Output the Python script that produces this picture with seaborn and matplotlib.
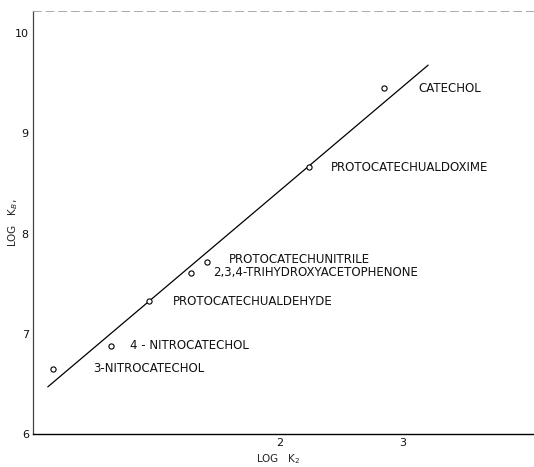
import numpy as np
import pandas as pd
import matplotlib
matplotlib.use("Agg")
import matplotlib.pyplot as plt
import seaborn as sns

# du lieu doc tu hinh
compounds = ["CATECHOL", "PROTOCATECHUALDOXIME", "PROTOCATECHUNITRILE",
             "2,3,4-TRIHYDROXYACETOPHENONE", "PROTOCATECHUALDEHYDE",
             "4 - NITROCATECHOL", "3-NITROCATECHOL"]
log_k2 = [2.85, 2.24, 1.41, 1.28, 0.94, 0.63, 0.16]
log_kb = [9.45, 8.66, 7.72, 7.61, 7.33, 6.88, 6.65]

# duong thang
line_x = [0.12, 3.21]
line_y = [6.47, 9.68]

x_ticks = [0.5, 1.0, 1.5, 2.0, 2.5, 3.0, 3.5]
x_labels = ["", "", "", "2", "", "3", ""]
y_ticks = [6, 6.5, 7, 7.5, 8, 8.5, 9, 9.5, 10]
y_labels = ["6", "", "7", "", "8", "", "9", "", "10"]

# vi tri nhan (pixel)
label_off = [(35, 0), (22, 0), (22, 2), (23, 0), (24, -1), (19, 0), (40, 0)]

df = pd.DataFrame({"x": log_k2, "y": log_kb, "name": compounds})
df_line = pd.DataFrame({"x": line_x, "y": line_y})

sns.set_style("white")
plt.rcParams["font.family"] = ["DejaVu Sans"]

fig = plt.figure(figsize=(5.34, 4.67), dpi=100)
ax = fig.add_axes([33 / 534, 33 / 467, 1 - 33 / 534, (434 - 11) / 467])

sns.lineplot(data=df_line, x="x", y="y", color="black", linewidth=0.9, ax=ax)
sns.scatterplot(data=df, x="x", y="y", marker="o", s=14, facecolor="white",
                edgecolor="black", linewidth=0.8, zorder=3, ax=ax)

for i in range(len(df)):
    ax.annotate(df["name"][i], (df["x"][i], df["y"][i]), xytext=label_off[i],
                textcoords="offset pixels", fontsize=8.5, va="center", ha="left",
                color="#111111")

ax.set_xlim(0, 4.07)
ax.set_ylim(6, 10.22)
ax.set_xticks(x_ticks)
ax.set_xticklabels(x_labels, fontsize=8)
ax.set_yticks(y_ticks)
ax.set_yticklabels(y_labels, fontsize=8)
ax.tick_params(direction="in", length=3, width=0.8, pad=3, colors="#111111")

ax.spines["right"].set_visible(False)
ax.spines["top"].set_color("#aaaaaa")
ax.spines["top"].set_linestyle((0, (8, 5)))
ax.spines["top"].set_linewidth(0.7)
ax.spines["left"].set_color("#444444")
ax.spines["left"].set_linewidth(0.9)
ax.spines["bottom"].set_color("black")
ax.spines["bottom"].set_linewidth(1.0)

ax.set_xlabel("LOG   K$_2$", fontsize=7.5)
ax.xaxis.set_label_coords(0.49, -0.043)
ax.set_ylabel("LOG   K$_B$,", fontsize=7.5)
ax.yaxis.set_label_coords(-0.026, 0.5)

fig.savefig("out.png", dpi=100)
